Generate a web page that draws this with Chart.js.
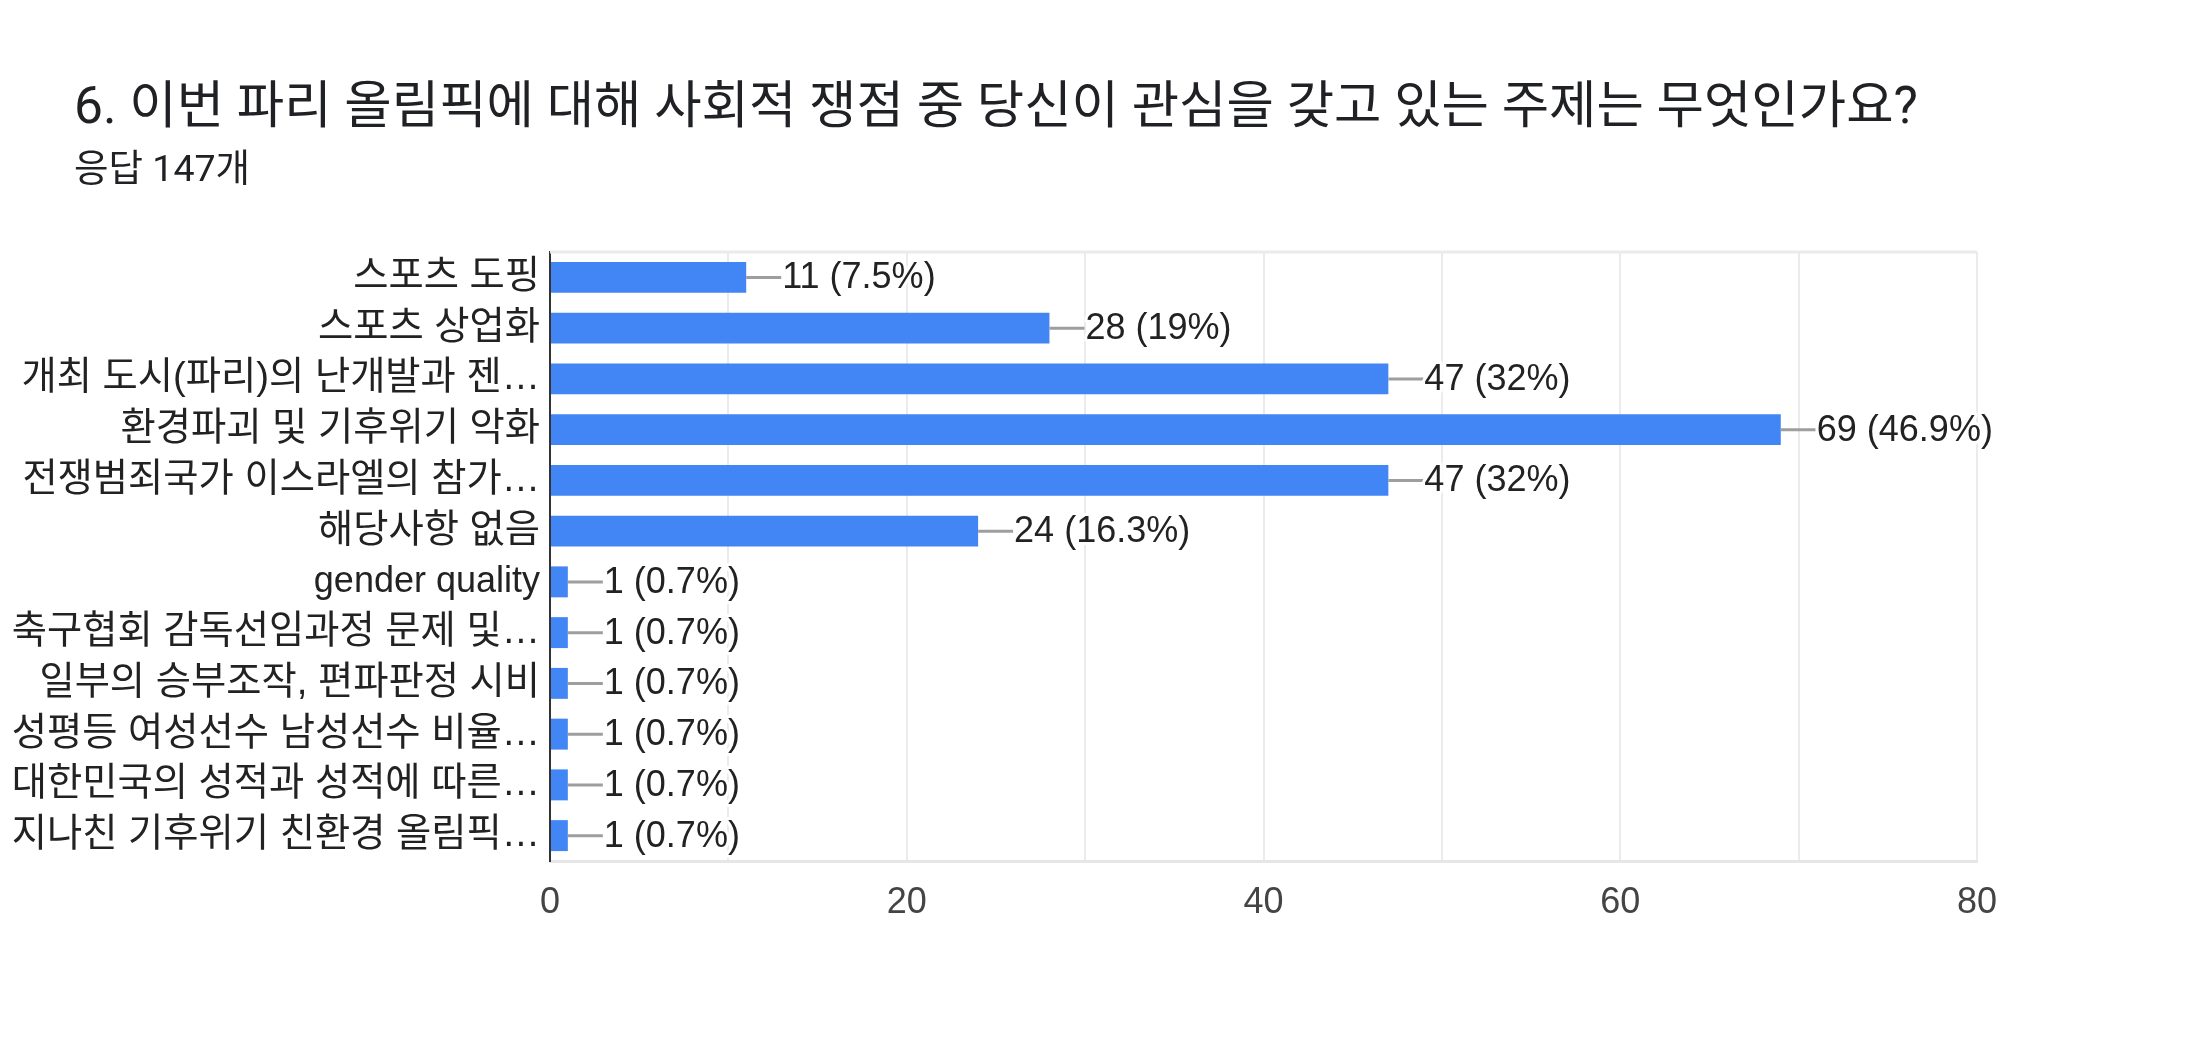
<!DOCTYPE html>
<html>
<head>
<meta charset="utf-8">
<script src="https://cdn.jsdelivr.net/npm/chart.js@4.4.1/dist/chart.umd.min.js"></script>
<style>
  html, body { margin: 0; padding: 0; background: #ffffff; }
  #wrap { position: relative; width: 2196px; height: 1044px; overflow: hidden; }
  #title { position: absolute; left: 74px; top: 80px; font-family: Roboto, 'Noto Sans CJK KR', sans-serif; font-size: 51.5px; line-height: 51px; color: #202124; white-space: nowrap; }
  #subtitle { position: absolute; left: 74px; top: 150px; font-family: Roboto, 'Noto Sans CJK KR', sans-serif; font-size: 37.5px; line-height: 37px; color: #202124; white-space: nowrap; }
  #chartBox { position: absolute; left: 0; top: 0; width: 2196px; height: 1044px; }
</style>
</head>
<body>
<div id="wrap">
  <div id="chartBox"><canvas id="c"></canvas></div>
  <div id="title">6. 이번 파리 올림픽에 대해 사회적 쟁점 중 당신이 관심을 갖고 있는 주제는 무엇인가요?</div>
  <div id="subtitle">응답 147개</div>
</div>
<script>
const categories = [
  '스포츠 도핑',
  '스포츠 상업화',
  '개최 도시(파리)의 난개발과 젠…',
  '환경파괴 및 기후위기 악화',
  '전쟁범죄국가 이스라엘의 참가…',
  '해당사항 없음',
  'gender quality',
  '축구협회 감독선임과정 문제 및…',
  '일부의 승부조작, 편파판정 시비',
  '성평등 여성선수 남성선수 비율…',
  '대한민국의 성적과 성적에 따른…',
  '지나친 기후위기 친환경 올림픽…'
];
const counts = [11, 28, 47, 69, 47, 24, 1, 1, 1, 1, 1, 1];
const percents = ['7.5%', '19%', '32%', '46.9%', '32%', '16.3%', '0.7%', '0.7%', '0.7%', '0.7%', '0.7%', '0.7%'];
const xTicks = [0, 20, 40, 60, 80];

const FONT = "'Liberation Sans', Arial, 'Noto Sans CJK KR', sans-serif";
Chart.defaults.font.family = FONT;

const dataLabels = {
  id: 'dataLabels',
  afterDatasetsDraw(chart) {
    const ctx = chart.ctx;
    const meta = chart.getDatasetMeta(0);
    ctx.save();
    ctx.font = '36px ' + FONT;
    ctx.textBaseline = 'middle';
    ctx.textAlign = 'left';
    meta.data.forEach((bar, i) => {
      const x = bar.x, y = bar.y;
      ctx.strokeStyle = '#9e9e9e';
      ctx.lineWidth = 3;
      ctx.beginPath();
      ctx.moveTo(x, y);
      ctx.lineTo(x + 35, y);
      ctx.stroke();
      const txt = counts[i] + ' (' + percents[i] + ')';
      ctx.lineJoin = 'round';
      ctx.strokeStyle = '#ffffff';
      ctx.lineWidth = 6;
      ctx.strokeText(txt, x + 36, y + 1);
      ctx.fillStyle = '#222222';
      ctx.fillText(txt, x + 36, y + 1);
    });
    ctx.restore();
  }
};

const frame = {
  id: 'frame',
  beforeDatasetsDraw(chart) {
    const a = chart.chartArea, ctx = chart.ctx;
    ctx.save();
    ctx.strokeStyle = '#ebebeb';
    ctx.lineWidth = 3;
    ctx.beginPath();
    ctx.moveTo(a.left, a.top);
    ctx.lineTo(a.right, a.top);
    ctx.stroke();
    ctx.restore();
  }
};

const hasHangul = (s) => /[\uac00-\ud7a3]/.test(s);

new Chart(document.getElementById('c'), {
  type: 'bar',
  data: {
    labels: categories,
    datasets: [{
      data: counts,
      backgroundColor: '#4285f4',
      borderWidth: 0,
      barPercentage: 0.61,
      categoryPercentage: 1.0
    }]
  },
  options: {
    indexAxis: 'y',
    responsive: true,
    maintainAspectRatio: false,
    animation: false,
    layout: { padding: { left: 0, right: 219, top: 252, bottom: 103 } },
    plugins: { legend: { display: false }, tooltip: { enabled: false } },
    scales: {
      x: {
        min: 0, max: 80,
        afterFit(scale) { scale.height = 80; },
        ticks: {
          stepSize: 10,
          autoSkip: false,
          maxRotation: 0,
          padding: 20,
          color: '#444444',
          font: { size: 36, family: FONT },
          callback: (v) => xTicks.includes(v) ? String(v) : ''
        },
        grid: { color: '#ebebeb', lineWidth: 2, drawTicks: false },
        border: { display: true, color: '#e6e6e6', width: 3 }
      },
      y: {
        afterFit(scale) { scale.width = 550; },
        ticks: {
          autoSkip: false,
          padding: 10,
          color: '#222222',
          font: (ctx) => {
            const lbl = categories[ctx.index] || '';
            return { size: hasHangul(lbl) ? 38.3 : 36, family: FONT };
          }
        },
        grid: { display: false, drawTicks: false },
        border: { display: true, color: '#333333', width: 2 }
      }
    }
  },
  plugins: [frame, dataLabels]
});
</script>
</body>
</html>
